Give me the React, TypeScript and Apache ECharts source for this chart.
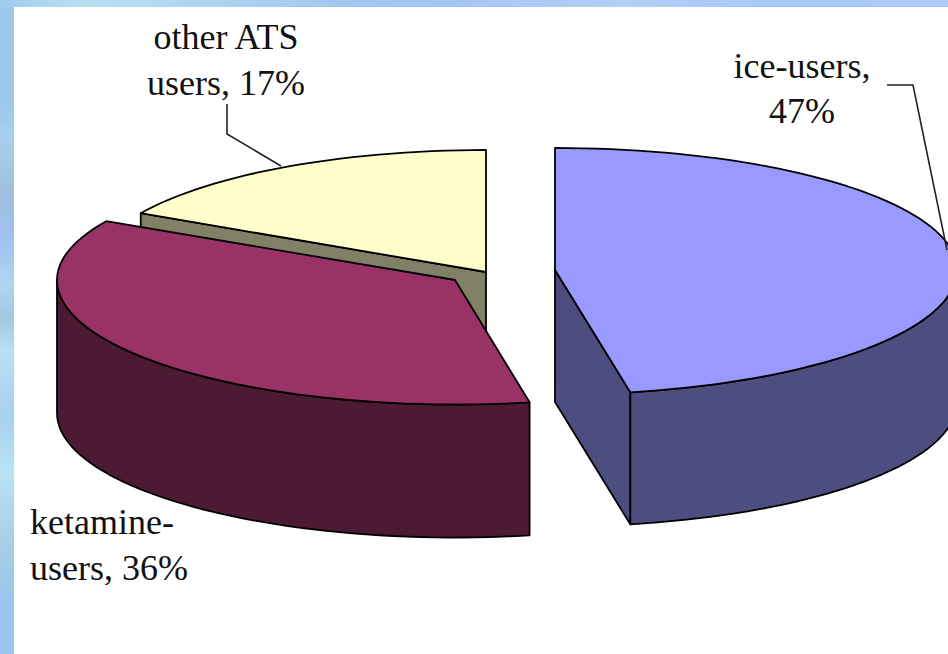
import React, { useEffect, useRef } from "react";
import * as echarts from "echarts";

const categories = ["ice-users", "ketamine-users", "other ATS users"];
const shares = [47, 36, 17];
const labelLines = [["ice-users,", "47%"], ["ketamine-", "users, 36%"], ["other ATS", "users, 17%"]];

const topColors = ["#9999FF", "#993366", "#FFFFCC"];
const wallColors = ["#4D4D80", "#4D1A33", "#808066"];
// Centre of each exploded slice, its radii and extrusion depth
const geometry = [
  { cx: 555, cy: 270, rx: 402, ryBack: 122, ryFront: 124.5, depth: 132 },
  { cx: 455, cy: 280, rx: 398, ryBack: 122, ryFront: 124.5, depth: 133 },
  { cx: 486, cy: 272, rx: 394, ryBack: 122, ryFront: 122, depth: 132 },
];
const labelAnchors = [
  { x: 802, y: [66, 111], align: "center" },
  { x: 30, y: [522, 568], align: "left" },
  { x: 226, y: [37, 83], align: "center" },
];
const leaders = [
  [[887, 85], [913, 85], [947, 250]],
  [],
  [[227, 104], [227, 134], [281, 166]],
];
const drawOrder = [2, 1, 0];

const point = (g: any, deg: number, dy = 0) => {
  const a = (deg * Math.PI) / 180;
  const c = Math.cos(a);
  return [g.cx + g.rx * Math.sin(a), g.cy - (c > 0 ? g.ryBack : g.ryFront) * c + dy];
};

const arcPoints = (g: any, from: number, to: number, dy = 0) => {
  const n = Math.max(2, Math.ceil(Math.abs(to - from) / 2));
  const pts: number[][] = [];
  for (let i = 0; i <= n; i++) pts.push(point(g, from + ((to - from) * i) / n, dy));
  return pts;
};

const stroke = { stroke: "#000", lineWidth: 1.8, lineJoin: "round" };

function sliceShapes(idx: number, start: number, end: number) {
  const g = geometry[idx];
  const d = g.depth;
  const out: any[] = [];
  const poly = (points: number[][], fill: string) =>
    out.push({ type: "polygon", shape: { points }, style: { fill, ...stroke } });

  const centerTop = [g.cx, g.cy];
  const centerBottom = [g.cx, g.cy + d];
  // Cut faces that turn towards the viewer
  if (end > 90 && end < 180) {
    const p = point(g, end);
    poly([centerTop, p, [p[0], p[1] + d], centerBottom], wallColors[idx]);
  }
  if (start > 180) {
    const p = point(g, start);
    poly([centerTop, p, [p[0], p[1] + d], centerBottom], wallColors[idx]);
  }
  // Curved outer wall: only its front half (90 deg to 270 deg) can be seen
  const a = Math.max(start, 90);
  const b = Math.min(end, 270);
  if (b > a) {
    poly([...arcPoints(g, a, b), ...arcPoints(g, b, a, d)], wallColors[idx]);
  }
  // Top face
  poly([centerTop, ...arcPoints(g, start, end)], topColors[idx]);
  return out;
}

export default function App() {
  const ref = useRef<HTMLDivElement>(null);

  useEffect(() => {
    document.body.style.margin = "0";
    document.body.style.overflow = "hidden";
    const chart = echarts.init(ref.current!, undefined, { renderer: "svg" });

    const total = shares.reduce((s, v) => s + v, 0);
    const starts: number[] = [];
    shares.reduce((acc, v, i) => {
      starts[i] = acc;
      return acc + (v / total) * 360;
    }, 0);

    chart.setOption({
      animation: false,
      backgroundColor: "#ffffff",
      graphic: [
        {
          type: "rect",
          silent: true,
          z: -10,
          shape: { x: 0, y: 0, width: 948, height: 7 },
          style: {
            fill: new echarts.graphic.LinearGradient(0, 0, 1, 0, [
              { offset: 0, color: "#A0CCEC" },
              { offset: 0.09, color: "#B8E0F2" },
              { offset: 0.2, color: "#AED6F2" },
              { offset: 0.36, color: "#A3C8EE" },
              { offset: 0.48, color: "#A6C6F2" },
              { offset: 0.66, color: "#B4CFF6" },
              { offset: 0.78, color: "#A8CAF4" },
              { offset: 1, color: "#ABC9F6" },
            ]),
          },
        },
        {
          type: "rect",
          silent: true,
          z: -10,
          shape: { x: 0, y: 7, width: 14, height: 647 },
          style: {
            fill: new echarts.graphic.LinearGradient(0, 0, 0, 1, [
              { offset: 0, color: "#9CC8EC" },
              { offset: 0.15, color: "#9CC8EC" },
              { offset: 0.2, color: "#A8D0F0" },
              { offset: 0.28, color: "#9FC0E0" },
              { offset: 0.35, color: "#A0C0EC" },
              { offset: 0.43, color: "#B0D4F4" },
              { offset: 0.48, color: "#A0C8E0" },
              { offset: 0.53, color: "#B8E0F4" },
              { offset: 0.63, color: "#A8D0F0" },
              { offset: 0.72, color: "#B8E2F4" },
              { offset: 0.82, color: "#A8D0E8" },
              { offset: 0.92, color: "#9CC4EC" },
              { offset: 1, color: "#9CC4EC" },
            ]),
          },
        },
      ],
      series: [
        {
          type: "custom",
          coordinateSystem: "none",
          silent: true,
          clip: false,
          data: drawOrder.map((i) => ({ name: categories[i], value: [i, shares[i]] })),
          renderItem: (params: any, api: any) => {
            const idx = api.value(0);
            const value = api.value(1);
            const start = starts[idx];
            const end = start + (value / total) * 360;
            const children = sliceShapes(idx, start, end);
            if (leaders[idx].length) {
              children.push({
                type: "polyline",
                shape: { points: leaders[idx] },
                style: { fill: "none", stroke: "#222", lineWidth: 1.6 },
              });
            }
            return { type: "group", children };
          },
        },
        {
          type: "custom",
          coordinateSystem: "none",
          silent: true,
          z: 5,
          data: drawOrder.map((i) => ({ name: categories[i], value: [i] })),
          renderItem: (params: any, api: any) => {
            const idx = api.value(0);
            const anchor = labelAnchors[idx];
            return {
              type: "group",
              children: labelLines[idx].map((line, k) => ({
                type: "text",
                x: anchor.x,
                y: anchor.y[k],
                style: {
                  text: line,
                  fill: "#111",
                  font: '36px "Liberation Serif"',
                  align: anchor.align,
                  verticalAlign: "middle",
                },
              })),
            };
          },
        },
      ],
    });

    return () => chart.dispose();
  }, []);

  return <div ref={ref} style={{ width: 948, height: 654 }} />;
}
